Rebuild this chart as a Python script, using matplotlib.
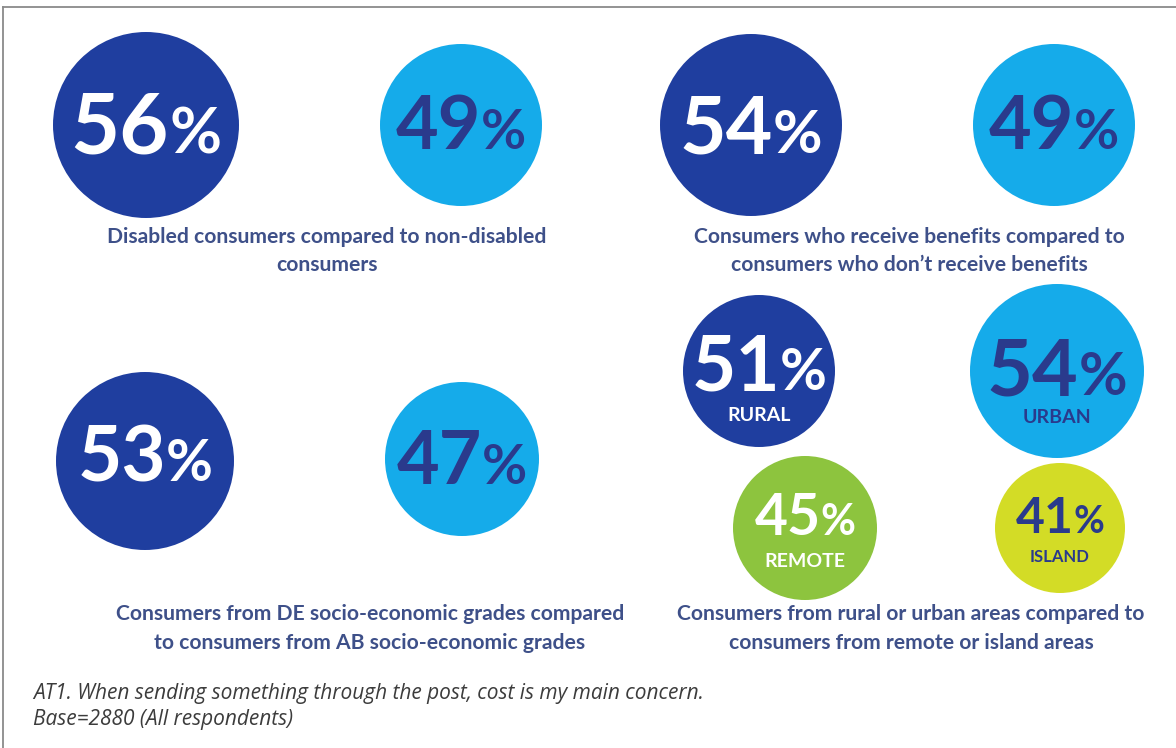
import matplotlib
matplotlib.use("Agg")
import matplotlib.pyplot as plt
from matplotlib.patches import Circle
from matplotlib.lines import Line2D

# ---- data -------------------------------------------------------------
values = [56, 49, 54, 49, 53, 47, 51, 54, 45, 41]
sublabels = ["", "", "", "", "", "", "RURAL", "URBAN", "REMOTE", "ISLAND"]
captions = [
    "Disabled consumers compared to non-disabled\nconsumers",
    "Consumers who receive benefits compared to\nconsumers who don\u2019t receive benefits",
    "Consumers from DE socio-economic grades compared\nto consumers from AB socio-economic grades",
    "Consumers from rural or urban areas compared to\nconsumers from remote or island areas",
]
footer_lines = [
    "AT1. When sending something through the post, cost is my main concern.",
    "Base=2880 (All respondents)",
]

# ---- layout / style (pixel coordinates, y downwards) ------------------
DARK = "#1f3e9f"
LIGHT = "#15abea"
GREEN = "#8dc43e"
YELLOW = "#d3dc26"
NAVY = "#2a3a8c"
CAPTION = "#3e5089"

# centre x, centre y, radius, fill, text colour, digit size, baseline, label baseline, label size
bubbles = [
    (146, 125, 93, DARK, "white", 61, 153, None, 0),
    (461, 125, 81, LIGHT, NAVY, 53, 149, None, 0),
    (751, 125, 91, DARK, "white", 58, 153, None, 0),
    (1054, 125, 81, LIGHT, NAVY, 53, 149, None, 0),
    (145, 461, 89, DARK, "white", 55, 481, None, 0),
    (462, 459, 77, LIGHT, NAVY, 53, 484, None, 0),
    (759, 371, 76, DARK, "white", 55, 390, 421, 14),
    (1057, 371, 87, LIGHT, NAVY, 57, 395, 423, 14),
    (805, 528, 72, GREEN, "white", 41, 535, 567, 14),
    (1060, 528, 65, YELLOW, NAVY, 36, 533, 562, 12),
]
caption_pos = [(327, 237, 265), (909, 237, 265), (370, 614, 643), (911, 614, 643)]

W, H, DPI = 1176, 748, 100
fig = plt.figure(figsize=(W / DPI, H / DPI), dpi=DPI, facecolor="white")
ax = fig.add_axes([0, 0, 1, 1])
ax.set_xlim(0, W)
ax.set_ylim(H, 0)
ax.axis("off")

FONT = "Lato"

# frame lines on the top and left edges
ax.add_line(Line2D([3, W], [7, 7], color="#8a8a8a", lw=1.3))
ax.add_line(Line2D([3, 3], [7, H], color="#8a8a8a", lw=1.3))

renderer = fig.canvas.get_renderer()

for val, sub, (cx, cy, r, fill, tc, fs, base, lbase, lfs) in zip(values, sublabels, bubbles):
    ax.add_patch(Circle((cx, cy), r, facecolor=fill, edgecolor="none"))
    num = ax.text(0, base, str(val), fontsize=fs, fontweight="bold", family=FONT,
                  color=tc, ha="left", va="baseline")
    pct = ax.text(0, base, "%", fontsize=fs * 0.75, fontweight="bold", family=FONT,
                  color=tc, ha="left", va="baseline")
    w_num = num.get_window_extent(renderer).width
    w_pct = pct.get_window_extent(renderer).width
    left = cx - (w_num + w_pct) / 2
    num.set_x(left)
    pct.set_x(left + w_num)
    if sub:
        ax.text(cx, lbase, sub, fontsize=lfs, fontweight="bold", family=FONT,
                color=tc, ha="center", va="baseline")

for cap, (x, y1, y2) in zip(captions, caption_pos):
    l1, l2 = cap.split("\n")
    for line, y in ((l1, y1), (l2, y2)):
        ax.text(x, y, line, fontsize=15.2, fontweight="bold", family=FONT,
                color=CAPTION, ha="center", va="center")

for line, y in zip(footer_lines, (693, 720)):
    ax.text(33, y, line, fontsize=15, style="italic", family="Open Sans",
            color="#3c3c3c", ha="left", va="center")

fig.savefig("out.png", dpi=DPI, facecolor="white")
